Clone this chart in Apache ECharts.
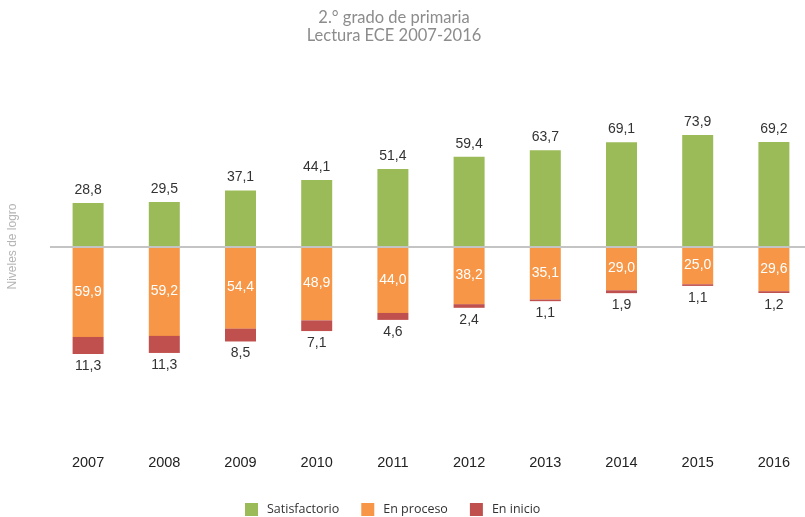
<!DOCTYPE html>
<html>
<head>
<meta charset="utf-8">
<script src="https://cdn.jsdelivr.net/npm/echarts@6/dist/echarts.min.js"></script>
<style>
  html, body { margin: 0; padding: 0; background: #fff; }
  #chart { width: 805px; height: 517px; }
</style>
</head>
<body>
<div id="chart"></div>
<script>
const years = ['2007', '2008', '2009', '2010', '2011', '2012', '2013', '2014', '2015', '2016']
const satisfactorio = [28.8, 29.5, 37.1, 44.1, 51.4, 59.4, 63.7, 69.1, 73.9, 69.2]
const enProceso = [59.9, 59.2, 54.4, 48.9, 44.0, 38.2, 35.1, 29.0, 25.0, 29.6]
const enInicio = [11.3, 11.3, 8.5, 7.1, 4.6, 2.4, 1.1, 1.9, 1.1, 1.2]

// comma decimals, always positive
const fmt = (p) => Math.abs(p.value).toFixed(1).replace('.', ',')

const chart = echarts.init(document.getElementById('chart'))
const font = 'Liberation Sans, Arial, sans-serif'

const option = {
  animation: false,
  title: {
    text: '2.° grado de primaria\nLectura ECE 2007-2016',
    left: 389,
    textAlign: 'center',
    top: 4,
    textStyle: {
      fontFamily: 'Lato, sans-serif',
      fontWeight: 'normal',
      fontSize: 16.5,
      lineHeight: 18,
      color: '#8c8c8c'
    }
  },
  legend: {
    top: 498,
    left: 240,
    icon: 'rect',
    itemWidth: 13,
    itemHeight: 13,
    itemGap: 22,
    textStyle: { fontFamily: 'Open Sans, sans-serif', fontSize: 12.5, color: '#333', padding: [0, 0, 0, 4] },
    data: ['Satisfactorio', 'En proceso', 'En inicio']
  },
  grid: {
    left: 50,
    width: 762,
    top: 95.5,
    bottom: 119.5,
    outerBoundsMode: 'none'
  },
  xAxis: {
    type: 'category',
    data: years,
    axisLine: { show: false },
    axisTick: { show: false },
    axisLabel: {
      margin: 58,
      fontFamily: font,
      fontSize: 14.5,
      color: '#222'
    }
  },
  yAxis: {
    type: 'value',
    min: -100,
    max: 100,
    axisLine: { show: false },
    axisTick: { show: false },
    axisLabel: { show: false },
    splitLine: { show: false },
    name: 'Niveles de logro',
    nameLocation: 'middle',
    nameRotate: 90,
    nameGap: 31,
    nameTextStyle: { fontFamily: font, fontSize: 12, color: '#b4b4b4' }
  },
  series: [
    {
      name: 'Satisfactorio',
      type: 'bar',
      stack: 'logro',
      barWidth: 31,
      data: satisfactorio,
      itemStyle: { color: '#9bbb59' },
      label: {
        show: true,
        position: 'top',
        distance: 6,
        formatter: fmt,
        fontFamily: font,
        fontSize: 14,
        color: '#333'
      },
      markLine: {
        silent: true,
        symbol: 'none',
        label: { show: false },
        lineStyle: { color: '#c4c4c4', width: 2, type: 'solid' },
        data: [{ yAxis: 0 }],
        z: 10
      }
    },
    {
      name: 'En proceso',
      type: 'bar',
      stack: 'logro',
      barWidth: 31,
      data: enProceso.map(v => -v),
      itemStyle: { color: '#f79646' },
      label: {
        show: true,
        position: 'inside',
        formatter: fmt,
        fontFamily: font,
        fontSize: 14,
        color: '#fff'
      }
    },
    {
      name: 'En inicio',
      type: 'bar',
      stack: 'logro',
      barWidth: 31,
      data: enInicio.map(v => -v),
      itemStyle: { color: '#c0504d' },
      label: {
        show: true,
        position: 'bottom',
        distance: 5,
        formatter: fmt,
        fontFamily: font,
        fontSize: 14,
        color: '#333'
      }
    }
  ]
}

chart.setOption(option)
window.addEventListener('resize', () => chart.resize())
</script>
</body>
</html>
